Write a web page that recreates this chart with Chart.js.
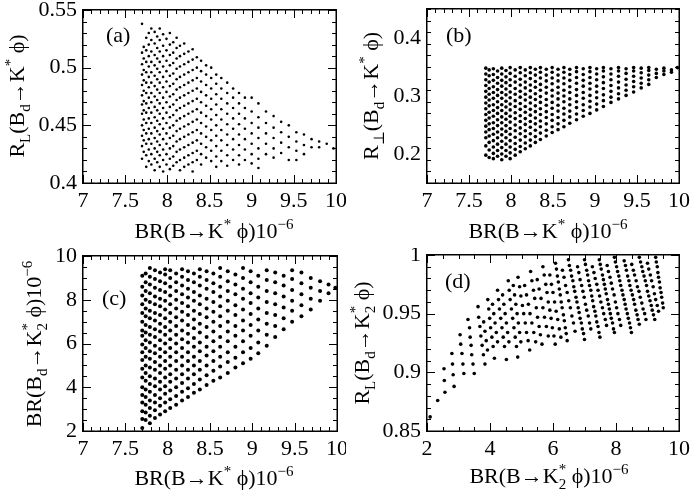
<!DOCTYPE html>
<html>
<head>
<meta charset="utf-8">
<script src="https://cdn.jsdelivr.net/npm/chart.js@4.4.0/dist/chart.umd.min.js"></script>
<style>
  html, body { margin: 0; padding: 0; background: #fff; }
  #page { position: relative; width: 692px; height: 496px; }
  .panel { position: absolute; width: 346px; height: 248px; }
</style>
</head>
<body>
<div id="page">
  <div class="panel" style="left:0;top:0"><canvas id="chartA"></canvas></div>
  <div class="panel" style="left:346px;top:0"><canvas id="chartB"></canvas></div>
  <div class="panel" style="left:0;top:248px"><canvas id="chartC"></canvas></div>
  <div class="panel" style="left:346px;top:248px"><canvas id="chartD"></canvas></div>
</div>
<script>
// tick labels
const xTicksBR = [7, 7.5, 8, 8.5, 9, 9.5, 10];
const yTicksA = [0.4, 0.45, 0.5, 0.55];
const yTicksB = [0.2, 0.3, 0.4];
const yTicksC = [2, 4, 6, 8, 10];
const xTicksD = [2, 4, 6, 8, 10];
const yTicksD = [0.85, 0.9, 0.95, 1];

// (a) R_L(Bd -> K* phi) vs BR(B -> K* phi), one column of y values per x
const aX = [7.70, 7.72, 7.75, 7.78, 7.81, 7.85, 7.88, 7.91, 7.95, 7.99, 8.03, 8.07, 8.11, 8.15, 8.20, 8.25, 8.30,
  8.35, 8.40, 8.46, 8.52, 8.58, 8.64, 8.71, 8.78, 8.85, 8.92, 9.00, 9.08, 9.17, 9.26, 9.35, 9.44, 9.53, 9.62,
  9.71, 9.80, 9.89, 9.97];
const aY = [
  [0.538, 0.513, 0.503, 0.494, 0.485, 0.476, 0.468, 0.460, 0.450, 0.441, 0.432, 0.421],
  [0.518, 0.508, 0.498, 0.489, 0.480, 0.471, 0.463, 0.455, 0.446, 0.437, 0.427],
  [0.526, 0.515, 0.505, 0.496, 0.487, 0.478, 0.469, 0.461, 0.452, 0.443, 0.434, 0.424, 0.414],
  [0.530, 0.520, 0.510, 0.501, 0.492, 0.483, 0.474, 0.465, 0.456, 0.447, 0.438, 0.429, 0.419],
  [0.534, 0.524, 0.514, 0.505, 0.496, 0.487, 0.478, 0.470, 0.461, 0.452, 0.443, 0.434, 0.425, 0.416],
  [0.531, 0.521, 0.511, 0.502, 0.493, 0.484, 0.475, 0.466, 0.457, 0.448, 0.439, 0.430, 0.421, 0.411],
  [0.527, 0.517, 0.508, 0.499, 0.490, 0.481, 0.472, 0.463, 0.454, 0.445, 0.436, 0.427, 0.418],
  [0.534, 0.524, 0.514, 0.505, 0.496, 0.487, 0.478, 0.469, 0.460, 0.451, 0.442, 0.433, 0.424, 0.414],
  [0.529, 0.519, 0.510, 0.501, 0.492, 0.483, 0.474, 0.465, 0.456, 0.447, 0.438, 0.429, 0.420, 0.410],
  [0.525, 0.515, 0.506, 0.497, 0.488, 0.479, 0.470, 0.461, 0.452, 0.443, 0.434, 0.425, 0.416],
  [0.530, 0.520, 0.511, 0.502, 0.493, 0.484, 0.475, 0.466, 0.457, 0.448, 0.439, 0.430, 0.421, 0.412],
  [0.522, 0.513, 0.504, 0.495, 0.486, 0.477, 0.468, 0.459, 0.450, 0.441, 0.432, 0.423, 0.415],
  [0.526, 0.517, 0.508, 0.499, 0.490, 0.481, 0.472, 0.463, 0.454, 0.445, 0.436, 0.427, 0.418],
  [0.519, 0.510, 0.501, 0.492, 0.483, 0.474, 0.465, 0.456, 0.447, 0.438, 0.429, 0.420, 0.411],
  [0.521, 0.512, 0.503, 0.494, 0.485, 0.476, 0.467, 0.458, 0.449, 0.440, 0.431, 0.422, 0.414],
  [0.514, 0.505, 0.496, 0.487, 0.478, 0.469, 0.460, 0.451, 0.442, 0.433, 0.424, 0.416],
  [0.516, 0.507, 0.498, 0.489, 0.480, 0.471, 0.462, 0.453, 0.444, 0.435, 0.426, 0.418, 0.410],
  [0.509, 0.500, 0.491, 0.482, 0.473, 0.464, 0.455, 0.446, 0.437, 0.428, 0.420],
  [0.506, 0.497, 0.488, 0.479, 0.470, 0.461, 0.452, 0.443, 0.434, 0.425, 0.416],
  [0.502, 0.494, 0.485, 0.476, 0.467, 0.458, 0.449, 0.440, 0.431, 0.422],
  [0.500, 0.491, 0.482, 0.473, 0.464, 0.455, 0.446, 0.437, 0.428, 0.419],
  [0.494, 0.486, 0.477, 0.468, 0.459, 0.450, 0.441, 0.432, 0.423, 0.414],
  [0.491, 0.482, 0.473, 0.464, 0.455, 0.446, 0.437, 0.428, 0.419],
  [0.487, 0.478, 0.469, 0.460, 0.451, 0.442, 0.433, 0.424, 0.415],
  [0.482, 0.474, 0.465, 0.456, 0.447, 0.438, 0.429, 0.420],
  [0.478, 0.469, 0.460, 0.451, 0.442, 0.433, 0.424, 0.416],
  [0.474, 0.465, 0.456, 0.447, 0.438, 0.429, 0.420],
  [0.474, 0.462, 0.452, 0.443, 0.434, 0.425, 0.417],
  [0.469, 0.457, 0.448, 0.439, 0.430, 0.421, 0.413],
  [0.462, 0.452, 0.443, 0.434, 0.425],
  [0.458, 0.448, 0.439, 0.430, 0.422],
  [0.453, 0.444, 0.435, 0.426],
  [0.450, 0.440, 0.431, 0.420],
  [0.444, 0.436, 0.428, 0.420],
  [0.442, 0.433, 0.425],
  [0.438, 0.431],
  [0.436, 0.431],
  [0.434],
  [0.430]
];

// (b) R_perp(Bd -> K* phi) vs BR(B -> K* phi)
const bX = [7.70, 7.74, 7.79, 7.84, 7.89, 7.94, 7.99, 8.05, 8.11, 8.17, 8.23, 8.29, 8.35, 8.42, 8.49, 8.56, 8.63,
  8.70, 8.78, 8.86, 8.94, 9.02, 9.10, 9.19, 9.28, 9.37, 9.46, 9.55, 9.64, 9.73, 9.82, 9.91, 9.98];
const bY = [
  [0.348, 0.338, 0.328, 0.318, 0.308, 0.298, 0.288, 0.278, 0.268, 0.258, 0.248, 0.238, 0.228, 0.214, 0.198],
  [0.345, 0.335, 0.324, 0.313, 0.303, 0.293, 0.283, 0.272, 0.262, 0.252, 0.242, 0.231, 0.220, 0.207, 0.194],
  [0.347, 0.337, 0.327, 0.316, 0.306, 0.296, 0.285, 0.275, 0.265, 0.254, 0.244, 0.234, 0.223, 0.212, 0.201, 0.192],
  [0.343, 0.332, 0.322, 0.311, 0.301, 0.290, 0.280, 0.270, 0.259, 0.249, 0.238, 0.228, 0.217, 0.206, 0.196],
  [0.348, 0.338, 0.327, 0.317, 0.306, 0.296, 0.285, 0.275, 0.264, 0.254, 0.243, 0.233, 0.222, 0.211, 0.200, 0.190],
  [0.344, 0.333, 0.323, 0.312, 0.302, 0.291, 0.281, 0.270, 0.260, 0.249, 0.239, 0.228, 0.217, 0.206, 0.196],
  [0.349, 0.339, 0.328, 0.318, 0.307, 0.297, 0.286, 0.276, 0.265, 0.255, 0.244, 0.234, 0.223, 0.212, 0.202, 0.192],
  [0.345, 0.334, 0.324, 0.313, 0.303, 0.292, 0.282, 0.271, 0.261, 0.250, 0.240, 0.229, 0.218, 0.208, 0.198],
  [0.349, 0.340, 0.329, 0.319, 0.308, 0.298, 0.287, 0.277, 0.266, 0.256, 0.245, 0.235, 0.224, 0.213, 0.204],
  [0.345, 0.335, 0.324, 0.314, 0.303, 0.293, 0.282, 0.272, 0.261, 0.251, 0.240, 0.230, 0.219, 0.209],
  [0.349, 0.340, 0.330, 0.319, 0.309, 0.298, 0.288, 0.277, 0.267, 0.256, 0.246, 0.235, 0.224, 0.214],
  [0.346, 0.336, 0.325, 0.315, 0.304, 0.294, 0.283, 0.273, 0.262, 0.252, 0.241, 0.230, 0.220],
  [0.349, 0.341, 0.331, 0.320, 0.310, 0.299, 0.289, 0.278, 0.268, 0.257, 0.247, 0.236, 0.225],
  [0.346, 0.336, 0.326, 0.315, 0.305, 0.294, 0.284, 0.273, 0.263, 0.252, 0.241, 0.231],
  [0.349, 0.341, 0.331, 0.321, 0.310, 0.300, 0.289, 0.279, 0.268, 0.258, 0.247, 0.237],
  [0.346, 0.336, 0.326, 0.315, 0.305, 0.295, 0.284, 0.274, 0.263, 0.252, 0.242],
  [0.349, 0.341, 0.331, 0.321, 0.310, 0.300, 0.290, 0.279, 0.269, 0.258, 0.247],
  [0.346, 0.337, 0.327, 0.316, 0.306, 0.295, 0.285, 0.274, 0.264, 0.253],
  [0.349, 0.342, 0.332, 0.322, 0.311, 0.301, 0.290, 0.280, 0.269, 0.259],
  [0.347, 0.337, 0.327, 0.317, 0.306, 0.296, 0.285, 0.275, 0.265],
  [0.349, 0.342, 0.332, 0.322, 0.312, 0.301, 0.291, 0.281, 0.270],
  [0.347, 0.338, 0.328, 0.317, 0.307, 0.297, 0.286, 0.276],
  [0.349, 0.343, 0.333, 0.323, 0.313, 0.302, 0.292, 0.282],
  [0.347, 0.338, 0.328, 0.318, 0.308, 0.298, 0.289],
  [0.349, 0.343, 0.334, 0.324, 0.314, 0.304, 0.295],
  [0.347, 0.339, 0.329, 0.319, 0.310, 0.301],
  [0.349, 0.343, 0.334, 0.325, 0.316, 0.307],
  [0.348, 0.340, 0.331, 0.322, 0.314],
  [0.349, 0.344, 0.336, 0.328, 0.320],
  [0.346, 0.339, 0.332],
  [0.348, 0.343, 0.337],
  [0.345, 0.341],
  [0.349]
];

// (c) BR(Bd -> K2* phi) vs BR(B -> K* phi)
const cX = [7.70, 7.74, 7.79, 7.85, 7.91, 7.97, 8.03, 8.10, 8.17, 8.24, 8.31, 8.38, 8.46, 8.54, 8.62, 8.71, 8.80,
  8.89, 8.98, 9.07, 9.17, 9.27, 9.37, 9.47, 9.58, 9.69, 9.80, 9.90, 9.98];
const cY = [
  [2.14, 2.55, 2.9, 3.3, 3.65, 4.0, 4.45, 4.85, 5.25, 5.6, 5.95, 6.35, 6.6, 7.0, 7.4, 7.8, 8.2, 8.6, 9.1],
  [2.5, 2.85, 3.2, 3.55, 3.9, 4.3, 4.65, 5.0, 5.4, 5.8, 6.15, 6.5, 6.85, 7.25, 7.6, 8.0, 8.4, 8.8, 9.2],
  [2.35, 2.7, 3.05, 3.4, 3.8, 4.15, 4.5, 4.9, 5.3, 5.65, 6.05, 6.4, 6.75, 7.15, 7.5, 7.9, 8.3, 8.7, 9.05, 9.45],
  [2.6, 2.95, 3.3, 3.65, 4.05, 4.4, 4.8, 5.15, 5.55, 5.9, 6.3, 6.65, 7.05, 7.4, 7.8, 8.15, 8.55, 8.95, 9.35],
  [2.75, 3.15, 3.5, 3.9, 4.25, 4.65, 5.0, 5.4, 5.75, 6.15, 6.55, 6.9, 7.3, 7.7, 8.05, 8.45, 8.85, 9.25],
  [2.9, 3.3, 3.7, 4.05, 4.45, 4.85, 5.2, 5.6, 6.0, 6.4, 6.75, 7.15, 7.55, 7.95, 8.35, 8.75, 9.15, 9.4],
  [3.05, 3.45, 3.85, 4.25, 4.6, 5.0, 5.4, 5.8, 6.2, 6.6, 7.0, 7.4, 7.8, 8.2, 8.6, 9.0, 9.35],
  [3.2, 3.6, 4.0, 4.4, 4.8, 5.2, 5.6, 6.0, 6.4, 6.8, 7.2, 7.6, 8.0, 8.4, 8.8, 9.2],
  [3.4, 3.8, 4.2, 4.6, 5.0, 5.4, 5.8, 6.2, 6.6, 7.05, 7.45, 7.85, 8.25, 8.65, 9.05, 9.4],
  [3.55, 3.95, 4.4, 4.8, 5.2, 5.6, 6.05, 6.45, 6.85, 7.3, 7.7, 8.1, 8.5, 8.9, 9.3],
  [3.75, 4.15, 4.6, 5.0, 5.4, 5.85, 6.25, 6.7, 7.1, 7.5, 7.95, 8.35, 8.8, 9.2],
  [3.9, 4.35, 4.8, 5.2, 5.65, 6.05, 6.5, 6.9, 7.35, 7.8, 8.2, 8.65, 9.05, 9.4],
  [4.1, 4.55, 5.0, 5.45, 5.85, 6.3, 6.75, 7.2, 7.6, 8.05, 8.5, 8.9, 9.3],
  [4.3, 4.75, 5.2, 5.65, 6.1, 6.55, 7.0, 7.45, 7.9, 8.35, 8.75, 9.2],
  [4.45, 4.95, 5.4, 5.85, 6.3, 6.8, 7.25, 7.7, 8.15, 8.6, 9.05, 9.45],
  [4.65, 5.15, 5.6, 6.1, 6.55, 7.0, 7.5, 7.95, 8.4, 8.85, 9.3],
  [4.9, 5.35, 5.85, 6.35, 6.8, 7.3, 7.75, 8.25, 8.7, 9.15],
  [5.1, 5.6, 6.1, 6.6, 7.05, 7.55, 8.05, 8.5, 9.0, 9.45],
  [5.3, 5.8, 6.35, 6.85, 7.35, 7.85, 8.3, 8.8, 9.3],
  [5.55, 6.05, 6.6, 7.1, 7.6, 8.1, 8.6, 9.1],
  [5.9, 6.4, 6.9, 7.4, 7.9, 8.4, 8.9, 9.35],
  [6.3, 6.8, 7.3, 7.8, 8.3, 8.8, 9.25],
  [6.65, 7.15, 7.65, 8.15, 8.65, 9.1],
  [7.0, 7.5, 7.95, 8.45, 8.95, 9.35],
  [7.25, 7.75, 8.25, 8.75, 9.25],
  [7.55, 8.05, 8.55, 9.0],
  [7.95, 8.4, 8.85],
  [8.3, 8.7],
  [8.55]
];

// (d) R_L(Bd -> K2* phi) vs BR(B -> K2* phi), [x, y] pairs along the streaks
const dPoints = [
  [2.10, 0.862], [2.34, 0.876],
  [2.54, 0.903], [2.55, 0.893], [2.57, 0.883],
  [2.79, 0.916], [2.81, 0.907], [2.83, 0.898], [2.86, 0.888],
  [3.05, 0.932], [3.07, 0.924], [3.11, 0.916], [3.14, 0.907], [3.17, 0.899],
  [3.30, 0.945], [3.35, 0.938], [3.37, 0.930], [3.40, 0.923], [3.42, 0.915], [3.46, 0.907], [3.50, 0.899],
  [3.62, 0.956], [3.64, 0.947], [3.68, 0.939], [3.71, 0.931], [3.75, 0.923], [3.79, 0.915], [3.84, 0.907],
  [3.80, 0.943], [3.84, 0.935], [3.88, 0.927], [3.92, 0.919],
  [3.93, 0.962], [3.96, 0.954], [3.99, 0.946], [4.02, 0.938], [4.06, 0.930], [4.10, 0.922], [4.14, 0.912],
  [4.08, 0.958], [4.12, 0.950], [4.16, 0.942], [4.20, 0.934], [4.24, 0.926],
  [4.24, 0.970], [4.27, 0.962], [4.30, 0.954], [4.34, 0.946], [4.38, 0.938], [4.42, 0.930], [4.46, 0.922], [4.52, 0.911],
  [4.40, 0.966], [4.44, 0.958], [4.48, 0.950], [4.52, 0.942], [4.56, 0.934], [4.60, 0.926],
  [4.58, 0.978], [4.61, 0.970], [4.64, 0.962], [4.68, 0.954], [4.72, 0.946], [4.76, 0.938], [4.80, 0.930], [4.84, 0.922], [4.88, 0.913],
  [4.74, 0.974], [4.78, 0.966], [4.82, 0.958], [4.86, 0.950], [4.90, 0.942], [4.94, 0.934], [4.98, 0.926],
  [4.89, 0.981], [4.94, 0.973], [4.98, 0.965], [5.03, 0.957], [5.07, 0.950], [5.12, 0.942], [5.16, 0.934], [5.21, 0.927], [5.26, 0.919],
  [5.10, 0.974], [5.16, 0.966], [5.22, 0.958], [5.27, 0.950], [5.33, 0.942], [5.39, 0.934], [5.45, 0.926],
  [5.29, 0.986], [5.33, 0.978], [5.38, 0.970], [5.42, 0.963], [5.47, 0.955], [5.51, 0.947], [5.56, 0.939], [5.60, 0.932], [5.65, 0.924],
  [5.50, 0.979], [5.56, 0.971], [5.62, 0.963], [5.68, 0.955], [5.73, 0.947], [5.79, 0.939], [5.85, 0.931],
  [5.68, 0.990], [5.72, 0.983], [5.77, 0.975], [5.81, 0.968], [5.85, 0.960], [5.90, 0.953], [5.94, 0.946], [5.98, 0.938], [6.03, 0.931], [6.07, 0.924],
  [5.90, 0.983], [5.95, 0.975], [6.00, 0.968], [6.05, 0.960], [6.10, 0.952], [6.15, 0.945], [6.20, 0.937], [6.25, 0.930],
  [6.08, 0.993], [6.11, 0.988], [6.14, 0.982], [6.17, 0.977], [6.20, 0.971], [6.23, 0.966], [6.26, 0.960], [6.29, 0.955],
  [6.33, 0.949], [6.36, 0.944], [6.39, 0.938], [6.42, 0.933], [6.45, 0.927],
  [6.30, 0.987], [6.35, 0.981], [6.40, 0.974], [6.45, 0.968], [6.50, 0.961], [6.55, 0.955], [6.60, 0.948], [6.65, 0.942], [6.70, 0.935],
  [6.49, 0.996], [6.52, 0.991], [6.56, 0.987], [6.59, 0.982], [6.63, 0.978], [6.66, 0.973], [6.69, 0.969], [6.73, 0.964],
  [6.76, 0.960], [6.80, 0.955], [6.83, 0.951], [6.86, 0.946], [6.90, 0.942], [6.93, 0.937], [6.97, 0.933], [7.00, 0.928],
  [6.78, 0.990], [6.82, 0.985], [6.86, 0.979], [6.91, 0.974], [6.95, 0.969], [6.99, 0.964], [7.03, 0.958], [7.07, 0.953],
  [7.12, 0.948], [7.16, 0.942], [7.20, 0.937],
  [7.00, 0.996], [7.03, 0.992], [7.07, 0.987], [7.10, 0.983], [7.13, 0.978], [7.16, 0.974], [7.20, 0.970], [7.23, 0.965],
  [7.26, 0.961], [7.29, 0.956], [7.33, 0.952], [7.36, 0.948], [7.39, 0.943], [7.43, 0.939], [7.46, 0.934], [7.49, 0.930],
  [7.25, 0.990], [7.30, 0.985], [7.34, 0.980], [7.39, 0.975], [7.43, 0.970], [7.48, 0.965], [7.52, 0.960], [7.57, 0.955],
  [7.61, 0.950], [7.66, 0.945], [7.70, 0.940],
  [7.47, 0.996], [7.50, 0.992], [7.53, 0.988], [7.57, 0.983], [7.60, 0.979], [7.63, 0.975], [7.66, 0.971], [7.69, 0.967],
  [7.73, 0.962], [7.76, 0.958], [7.79, 0.954], [7.82, 0.950], [7.85, 0.946], [7.89, 0.942], [7.92, 0.937], [7.95, 0.934],
  [7.72, 0.991], [7.76, 0.986], [7.81, 0.981], [7.85, 0.976], [7.89, 0.971], [7.94, 0.966], [7.98, 0.960], [8.02, 0.955],
  [8.06, 0.950], [8.11, 0.945], [8.15, 0.940],
  [7.95, 0.998], [7.98, 0.994], [8.02, 0.990], [8.05, 0.986], [8.09, 0.982], [8.12, 0.978], [8.15, 0.974], [8.19, 0.970],
  [8.22, 0.966], [8.26, 0.962], [8.29, 0.958], [8.32, 0.954], [8.36, 0.950], [8.39, 0.946], [8.43, 0.942], [8.46, 0.938], [8.49, 0.934],
  [8.26, 0.995], [8.30, 0.991], [8.33, 0.987], [8.37, 0.982], [8.41, 0.978], [8.44, 0.974], [8.48, 0.970], [8.52, 0.966],
  [8.56, 0.962], [8.59, 0.958], [8.63, 0.953], [8.67, 0.949], [8.70, 0.945], [8.74, 0.941],
  [8.50, 0.992], [8.55, 0.987], [8.59, 0.983], [8.64, 0.978], [8.68, 0.973], [8.73, 0.969], [8.77, 0.964], [8.82, 0.959],
  [8.86, 0.954], [8.91, 0.950], [8.95, 0.945],
  [8.74, 0.998], [8.78, 0.994], [8.82, 0.990], [8.85, 0.986], [8.89, 0.982], [8.93, 0.978], [8.97, 0.974], [9.00, 0.969],
  [9.04, 0.965], [9.08, 0.961], [9.12, 0.957], [9.15, 0.953], [9.19, 0.949], [9.23, 0.945],
  [9.00, 0.993], [9.04, 0.988], [9.09, 0.983], [9.13, 0.978], [9.18, 0.973], [9.22, 0.967], [9.26, 0.962], [9.31, 0.957], [9.35, 0.952],
  [9.26, 0.998], [9.28, 0.994], [9.31, 0.990], [9.33, 0.985], [9.35, 0.981], [9.38, 0.977], [9.40, 0.972], [9.43, 0.968],
  [9.45, 0.964], [9.48, 0.959], [9.50, 0.955]
];

const MAIN_FONT = '22px "Liberation Serif", "DejaVu Serif", serif';
const SMALL_FONT = '15px "Liberation Serif", "DejaVu Serif", serif';

function columnsToPoints(xs, ys) {
  const pts = [];
  xs.forEach((x, i) => ys[i].forEach(y => pts.push({ x: x, y: y })));
  return pts;
}

function partWidth(ctx, p) {
  if (p.sub !== undefined) {
    ctx.font = SMALL_FONT;
    return Math.max(ctx.measureText(p.sub).width, ctx.measureText(p.sup).width);
  }
  ctx.font = p.s ? SMALL_FONT : MAIN_FONT;
  return ctx.measureText(p.t).width;
}

// text with sub/superscripts centred on (cx, cy); vertical = rotated -90deg
function drawRich(ctx, parts, cx, cy, vertical) {
  ctx.save();
  ctx.translate(cx, cy);
  if (vertical) ctx.rotate(-Math.PI / 2);
  ctx.fillStyle = "#000";
  ctx.textAlign = "left";
  ctx.textBaseline = "alphabetic";
  let total = 0;
  parts.forEach(p => { total += partWidth(ctx, p); });
  let x = -total / 2;
  parts.forEach(p => {
    const w = partWidth(ctx, p);
    if (p.sub !== undefined) {
      ctx.fillText(p.sub, x, 6);
      ctx.fillText(p.sup, x, -9);
    } else {
      ctx.fillText(p.t, x, p.s === "sub" ? 6 : p.s === "sup" ? -9 : 0);
    }
    x += w;
  });
  ctx.restore();
}

// inward major/minor ticks on all four sides plus the box, as one filled path
function drawFrame(chart, f) {
  const ctx = chart.ctx;
  const xs = chart.scales.x;
  const ys = chart.scales.y;
  const L = f.area.l, R = f.area.r, T = f.area.t, B = f.area.b;
  ctx.save();
  ctx.globalAlpha = 1;
  ctx.globalCompositeOperation = "source-over";
  ctx.fillStyle = "#000";
  ctx.beginPath();
  const nx = Math.round((f.xRange[1] - f.xRange[0]) / f.xMinor);
  for (let i = 0; i <= nx; i++) {
    const v = f.xRange[0] + i * f.xMinor;
    const px = Math.round(xs.getPixelForValue(v));
    const len = f.xTicks.some(t => Math.abs(t - v) < 1e-6) ? 8 : 4;
    ctx.rect(px, B - len, 1, len);
    ctx.rect(px, T, 1, len);
  }
  const ny = Math.round((f.yRange[1] - f.yRange[0]) / f.yMinor);
  for (let i = 0; i <= ny; i++) {
    const v = f.yRange[0] + i * f.yMinor;
    const py = Math.round(ys.getPixelForValue(v));
    const len = f.yTicks.some(t => Math.abs(t - v) < 1e-6) ? 8 : 4;
    ctx.rect(L, py, len, 1);
    ctx.rect(R - len, py, len, 1);
  }
  ctx.rect(L - 1, T - 1, R - L + 2, 1.5);
  ctx.rect(L - 1, B - 0.5, R - L + 2, 1.5);
  ctx.rect(L - 1, T - 1, 1.5, B - T + 1.5);
  ctx.rect(R - 0.5, T - 1, 1.5, B - T + 1.5);
  ctx.fill("nonzero");
  ctx.restore();
}

function makeChart(id, c) {
  const tickFont = { family: '"Liberation Serif", "DejaVu Serif", serif', size: 22 };
  const canvas = document.getElementById(id);
  // software canvas, so thin marks survive the photograph
  canvas.getContext("2d", { willReadFrequently: true });
  const decor = {
    id: "decor" + id.slice(-1),
    afterDraw(chart) {
      const ctx = chart.ctx;
      drawRich(ctx, c.xTitle, c.xTitlePos[0], c.xTitlePos[1], false);
      drawRich(ctx, c.yTitle, c.yTitlePos[0], c.yTitlePos[1], true);
      ctx.save();
      ctx.font = MAIN_FONT;
      ctx.fillStyle = "#000";
      ctx.fillText(c.tag, c.tagPos[0], c.tagPos[1]);
      ctx.restore();
      drawFrame(chart, c);
    }
  };
  return new Chart(canvas, {
    type: "scatter",
    data: {
      datasets: [{
        data: c.points,
        pointRadius: c.radius,
        pointHoverRadius: c.radius,
        backgroundColor: "#000",
        borderWidth: 0
      }]
    },
    options: {
      responsive: true,
      maintainAspectRatio: false,
      animation: false,
      layout: { padding: { left: 0, top: c.area.t, right: 346 - c.area.r, bottom: 0 } },
      plugins: { legend: { display: false }, tooltip: { enabled: false } },
      scales: {
        x: {
          type: "linear", min: c.xRange[0], max: c.xRange[1],
          grid: { display: false, drawTicks: false }, border: { display: false },
          ticks: { font: tickFont, color: "#000", padding: 5, maxRotation: 0, callback: v => String(v) },
          afterBuildTicks: s => { s.ticks = c.xTicks.map(v => ({ value: v })); },
          afterFit: s => { s.height = 248 - c.area.b; s.paddingLeft = 0; s.paddingRight = 0; }
        },
        y: {
          type: "linear", min: c.yRange[0], max: c.yRange[1],
          grid: { display: false, drawTicks: false }, border: { display: false },
          ticks: { font: tickFont, color: "#000", padding: 6, callback: v => String(v) },
          afterBuildTicks: s => { s.ticks = c.yTicks.map(v => ({ value: v })); },
          afterFit: s => { s.width = c.area.l; s.paddingTop = 0; s.paddingBottom = 0; }
        }
      }
    },
    plugins: [decor]
  });
}

const PHI = "\u03d5";
const titleBRKstar = [{ t: "BR(B\u2192K" }, { t: "*", s: "sup" }, { t: " " + PHI + ")10" }, { t: "\u22126", s: "sup" }];

makeChart("chartA", {
  points: columnsToPoints(aX, aY), radius: 1.3,
  xRange: [7, 10], yRange: [0.4, 0.55], xTicks: xTicksBR, yTicks: yTicksA, xMinor: 0.1, yMinor: 0.01,
  area: { l: 83, r: 336, t: 10, b: 183 },
  xTitle: titleBRKstar, xTitlePos: [214, 238],
  yTitle: [{ t: "R" }, { t: "L", s: "sub" }, { t: "(B" }, { t: "d", s: "sub" }, { t: "\u2192K" }, { t: "*", s: "sup" }, { t: " " + PHI + ")" }],
  yTitlePos: [24, 96], tag: "(a)", tagPos: [106, 42]
});

makeChart("chartB", {
  points: columnsToPoints(bX, bY), radius: 1.8,
  xRange: [7, 10], yRange: [0.15, 0.45], xTicks: xTicksBR, yTicks: yTicksB, xMinor: 0.1, yMinor: 0.02,
  area: { l: 81, r: 333, t: 9, b: 183 },
  xTitle: titleBRKstar, xTitlePos: [202, 238],
  yTitle: [{ t: "R" }, { t: "\u22a5", s: "sub" }, { t: "(B" }, { t: "d", s: "sub" }, { t: "\u2192K" }, { t: "*", s: "sup" }, { t: " " + PHI + ")" }],
  yTitlePos: [32, 96], tag: "(b)", tagPos: [100, 42]
});

makeChart("chartC", {
  points: columnsToPoints(cX, cY), radius: 2.0,
  xRange: [7, 10], yRange: [2, 10], xTicks: xTicksBR, yTicks: yTicksC, xMinor: 0.1, yMinor: 0.5,
  area: { l: 83, r: 337, t: 8, b: 183 },
  xTitle: titleBRKstar, xTitlePos: [214, 237],
  yTitle: [{ t: "BR(B" }, { t: "d", s: "sub" }, { t: "\u2192K" }, { sub: "2", sup: "*" }, { t: " " + PHI + ")10" }, { t: "\u22126", s: "sup" }],
  yTitlePos: [41, 96], tag: "(c)", tagPos: [102, 57]
});

makeChart("chartD", {
  points: dPoints.map(p => ({ x: p[0], y: p[1] })), radius: 1.8,
  xRange: [2, 10], yRange: [0.85, 1], xTicks: xTicksD, yTicks: yTicksD, xMinor: 0.5, yMinor: 0.01,
  area: { l: 81, r: 333, t: 7, b: 183 },
  xTitle: [{ t: "BR(B\u2192K" }, { sub: "2", sup: "*" }, { t: " " + PHI + ")10" }, { t: "\u22126", s: "sup" }],
  xTitlePos: [203, 235],
  yTitle: [{ t: "R" }, { t: "L", s: "sub" }, { t: "(B" }, { t: "d", s: "sub" }, { t: "\u2192K" }, { sub: "2", sup: "*" }, { t: " " + PHI + ")" }],
  yTitlePos: [23, 95], tag: "(d)", tagPos: [99, 40]
});
</script>
</body>
</html>
